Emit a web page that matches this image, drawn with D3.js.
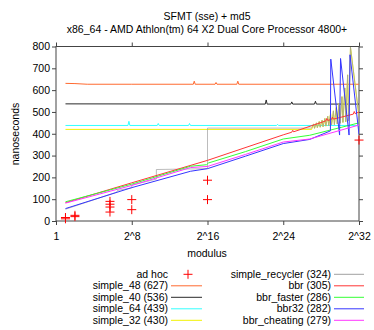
<!DOCTYPE html>
<html><head><meta charset="utf-8">
<script src="https://cdn.jsdelivr.net/npm/d3@7"></script>
<style>body{margin:0;background:#fff}svg{display:block}text{font-family:"Liberation Sans",Arial,sans-serif;font-size:10.5px;fill:#000}</style>
</head><body><svg id="c" width="374" height="330"></svg>
<script>
// ---- data (x given as log2 of modulus) ----
const titleLines = ["SFMT (sse) + md5", "x86_64 - AMD Athlon(tm) 64 X2 Dual Core Processor 4800+"];
const xTickBits = [0, 8, 16, 24, 32];
const xTickLabels = ["1", "2^8", "2^16", "2^24", "2^32"];
const yTicks = [0, 100, 200, 300, 400, 500, 600, 700, 800];

const adHocBits = [1, 1, 2, 2, 5.7, 5.7, 5.7, 5.7, 8, 8, 16, 16, 32];
const adHocValues = [16, 10, 26, 20, 90, 77, 64, 41, 98, 52, 187, 98, 371];

const tailBits = [27.0, 27.2, 27.3, 27.5, 27.6, 27.8, 27.9, 28.1, 28.2, 28.4, 28.5, 28.7, 28.8, 29.0, 29.1, 29.3, 29.4, 29.6, 29.7, 29.9, 30.0, 30.2, 30.3, 30.5, 30.6, 30.8, 30.9, 31.1, 32.0];
const tailValues = [426, 445, 425, 450, 428, 456, 430, 462, 432, 470, 435, 480, 437, 492, 440, 505, 442, 520, 445, 540, 448, 570, 452, 610, 455, 670, 460, 797, 480];

const simple48Bits = [1, 2, 3.3, 8, 14.5, 14.6, 14.7, 16.8, 16.9, 17.0, 19.1, 19.2, 19.3, 32];
const simple48Values = [631, 630, 627, 627, 627, 641, 627, 627, 635, 627, 627, 641, 627, 627];
const simple40Bits = [1, 22.1, 22.2, 22.3, 24.8, 24.9, 25.0, 27.3, 27.4, 27.5, 32];
const simple40Values = [537, 536, 555, 536, 536, 546, 536, 536, 549, 536, 536];
const simple64Bits = [1, 7.6, 7.7, 7.8, 10.7, 10.8, 10.9, 14.0, 14.1, 14.2, 23.3, 23.4, 23.5, 32];
const simple64Values = [438, 438, 457, 438, 438, 447, 438, 438, 447, 438, 438, 443, 438, 438];
const simple32Bits = [1].concat(tailBits);
const simple32Values = [420, 420].concat(tailValues.slice(1));
const recyclerBits = [1, 6.4, 6.5, 8, 8, 10.6, 10.6, 16, 16].concat(tailBits);
const recyclerValues = [54, 132, 140, 152, 165, 192, 236, 240, 426].concat(tailValues);
const bbrBits = [1, 8, 16, 24, 24.9, 25.0, 25.1, 28.5, 28.6, 28.7, 29.1, 29.2, 29.3, 31.4, 31.5, 31.6, 32];
const bbrValues = [84, 175, 278, 395, 407, 416, 409, 459, 470, 461, 466, 476, 467, 490, 502, 492, 500];
const bbrFasterBits = [1, 8, 14.2, 15.9, 16.1, 20, 24, 26.8, 32];
const bbrFasterValues = [88, 169, 251, 258, 266, 318, 376, 393, 450];
const bbr32Bits = [1, 8, 14.2, 16, 20, 24, 26.8, 28.98, 29.02, 29.95, 30.05, 30.95, 31.05, 32];
const bbr32Values = [57, 153, 228, 240, 297, 355, 374, 413, 742, 394, 745, 394, 762, 397];
const bbrCheatingBits = [1, 8, 14.2, 16, 20, 24, 26.8, 32];
const bbrCheatingValues = [82, 163, 245, 250, 305, 362, 376, 440];

const seriesNames = ["simple_48 (627)", "simple_40 (536)", "simple_64 (439)", "simple_32 (430)", "simple_recycler (324)", "bbr (305)", "bbr_faster (286)", "bbr32 (282)", "bbr_cheating (279)"];
const seriesColors = ["#ff6a30", "#2a2a2a", "#33ffff", "#f2f200", "#a0a0a0", "#ff3535", "#35ff35", "#3535ff", "#ff35ff"];
const seriesBits = [simple48Bits, simple40Bits, simple64Bits, simple32Bits, recyclerBits, bbrBits, bbrFasterBits, bbr32Bits, bbrCheatingBits];
const seriesValues = [simple48Values, simple40Values, simple64Values, simple32Values, recyclerValues, bbrValues, bbrFasterValues, bbr32Values, bbrCheatingValues];
const seriesOpacity = [1, 1, 1, 1, 0.7, 1, 1, 1, 1];

// ---- chart ----
const svg = d3.select("#c");
const L = 56, R = 359, T = 46.5, B = 221;
const x = d3.scaleLog().base(2).domain([1, 2 ** 32]).range([L, R]);
const y = d3.scaleLinear().domain([0, 800]).range([B, T]);

svg.selectAll("text.title").data(titleLines).enter().append("text")
  .attr("x", 207).attr("y", (d, i) => 20 + i * 13.3).attr("text-anchor", "middle").text(d => d);

const tickCol = "#444";
function style(g) { g.select(".domain").remove(); g.selectAll("line").attr("stroke", tickCol); g.selectAll("text").attr("font-size", null).attr("font-family", null); }
const xt = xTickBits.map(b => 2 ** b);
svg.append("g").attr("transform", `translate(0,${B})`)
  .call(d3.axisBottom(x).tickValues(xt).tickSize(4).tickPadding(7.5).tickFormat((d, i) => xTickLabels[i])).call(style);
svg.append("g").attr("transform", `translate(0,${T})`)
  .call(d3.axisTop(x).tickValues(xt).tickSize(4).tickFormat("")).call(style);
svg.append("g").attr("transform", `translate(${L},0)`)
  .call(d3.axisLeft(y).tickValues(yTicks).tickSize(4).tickPadding(2)).call(style);
svg.append("g").attr("transform", `translate(${R},0)`)
  .call(d3.axisRight(y).tickValues(yTicks).tickSize(4).tickFormat("")).call(style);

svg.append("defs").append("clipPath").attr("id", "clip").append("rect")
  .attr("x", L).attr("y", T).attr("width", R - L).attr("height", B - T);

svg.append("rect").attr("x", L).attr("y", T).attr("width", R - L).attr("height", B - T)
  .attr("fill", "none").attr("stroke", tickCol).attr("stroke-width", 1);

const plot = svg.append("g").attr("clip-path", "url(#clip)");
const line = d3.line().x(d => x(2 ** d[0])).y(d => y(d[1]));
seriesBits.forEach((bits, s) => {
  const pts = bits.map((b, i) => [b, seriesValues[s][i]]);
  plot.append("path").attr("d", line(pts)).attr("fill", "none")
    .attr("stroke", seriesColors[s]).attr("stroke-width", 1).attr("stroke-opacity", seriesOpacity[s]);
});
// ad hoc points (not clipped)
const ph = 4.5;
const pts = svg.append("g");
adHocBits.forEach((b, i) => {
  const cx = x(2 ** b), cy = y(adHocValues[i]);
  pts.append("path").attr("d", `M${cx - ph},${cy}H${cx + ph}M${cx},${cy - ph}V${cy + ph}`)
    .attr("stroke", "#ff0000").attr("stroke-width", 1);
});

svg.append("text").attr("transform", "translate(19,134) rotate(-90)").attr("text-anchor", "middle").text("nanoseconds");
svg.append("text").attr("x", 207).attr("y", 257).attr("text-anchor", "middle").text("modulus");

// legend
const rowY = i => 274.3 + i * 11.5;
const leg = svg.append("g");
const legendItems = ["ad hoc"].concat(seriesNames);
legendItems.forEach((name, k) => {
  const col = k < 5 ? 0 : 1, row = k < 5 ? k : k - 5;
  const tx = col === 0 ? 168 : 331, lx1 = col === 0 ? 171 : 334, lx2 = col === 0 ? 202 : 364;
  const yy = rowY(row);
  leg.append("text").attr("x", tx).attr("y", yy).attr("dy", "0.35em").attr("text-anchor", "end").text(name);
  if (k === 0) {
    const cx = 188;
    leg.append("path").attr("d", `M${cx - ph},${yy}H${cx + ph}M${cx},${yy - ph}V${yy + ph}`).attr("stroke", "#ff0000");
  } else {
    leg.append("line").attr("x1", lx1).attr("x2", lx2).attr("y1", yy).attr("y2", yy)
      .attr("stroke", seriesColors[k - 1]).attr("stroke-width", 1);
  }
});
</script></body></html>
